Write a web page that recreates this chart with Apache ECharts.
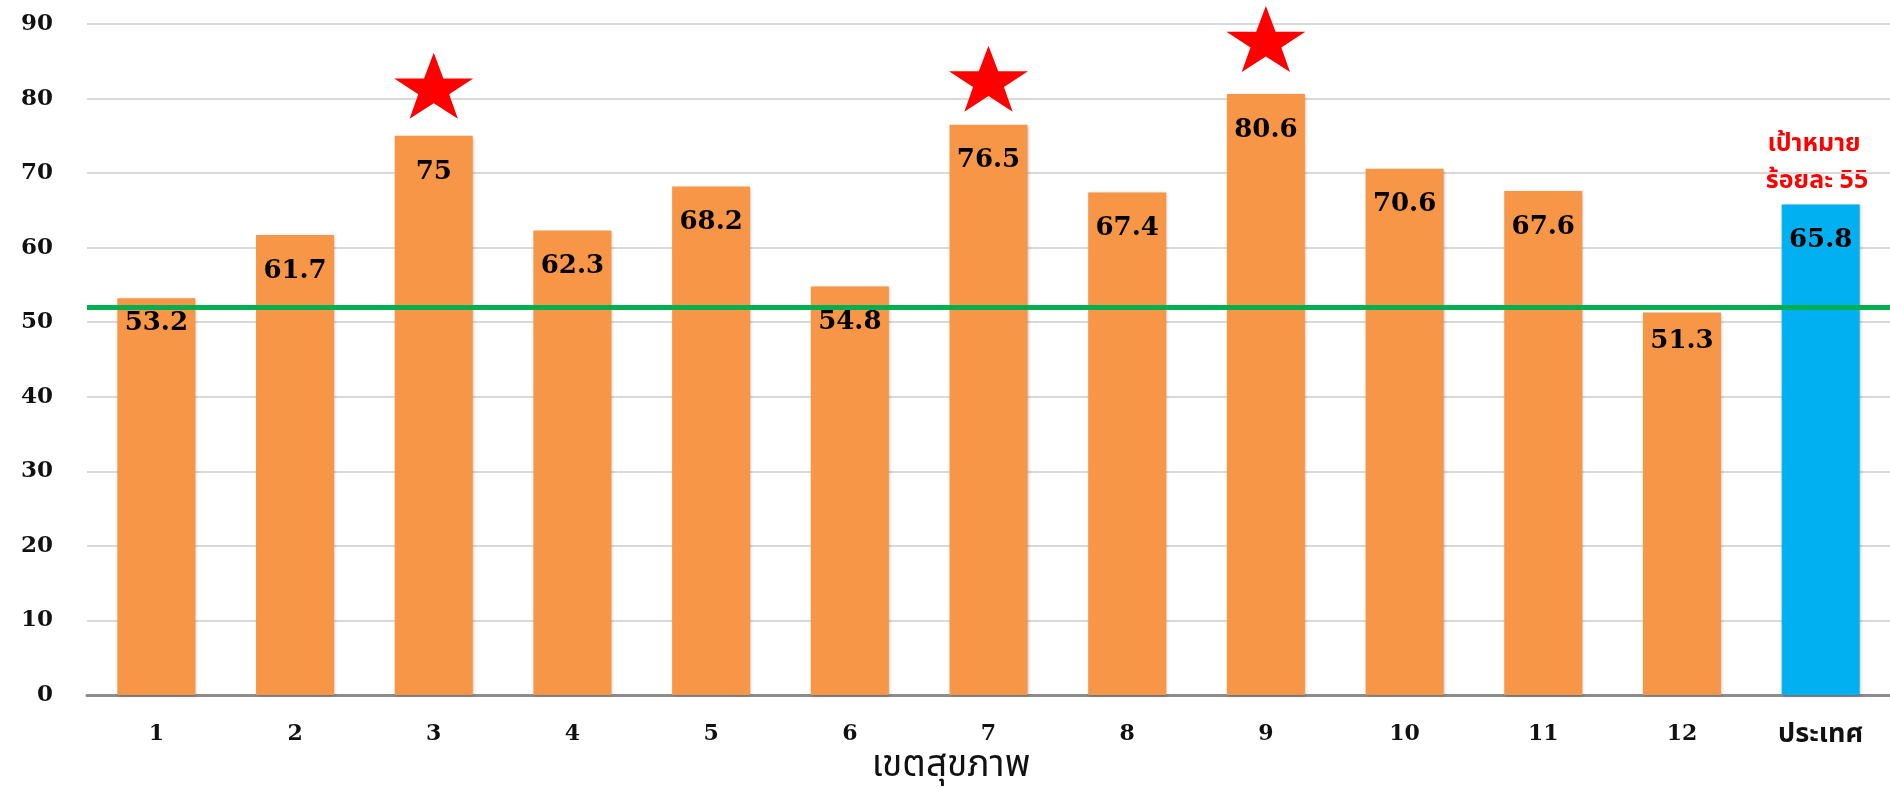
<!DOCTYPE html>
<html>
<head>
<meta charset="utf-8">
<script src="https://cdn.jsdelivr.net/npm/echarts@6/dist/echarts.min.js"></script>
<style>
  html, body { margin: 0; padding: 0; background: #ffffff; }
  #chart { width: 1890px; height: 788px; }
</style>
</head>
<body>
<div id="chart"></div>
<script>
// Health regions (เขตสุขภาพ) and the national figure
const categories = ['1', '2', '3', '4', '5', '6', '7', '8', '9', '10', '11', '12', 'ประเทศ'];
const values = [53.2, 61.7, 75, 62.3, 68.2, 54.8, 76.5, 67.4, 80.6, 70.6, 67.6, 51.3, 65.8];
const nationalCategory = 'ประเทศ';
const starredRegions = ['3', '7', '9'];
const referenceLine = 52;
const yTicks = { min: 0, max: 90, interval: 10 };
const axisTitle = 'เขตสุขภาพ';
const targetText = ['เป้าหมาย', 'ร้อยละ 55'];

// Styling
const ORANGE = '#F79646';
const BLUE = '#00B0F0';
const numFont = '"DejaVu Serif", "Liberation Serif", serif';
const thaiFont = '"Noto Sans Thai", "Noto Sans", "DejaVu Sans", sans-serif';
const starLift = { '3': 50, '7': 46, '9': 55 };      // px between bar top and star centre
const labelDistance = { '1': 12, '12': 16 };          // bars whose value text sits higher

const barData = categories.map((c, i) => {
  const item = {
    value: values[i],
    itemStyle: { color: c === nationalCategory ? BLUE : ORANGE }
  };
  if (labelDistance[c] !== undefined) item.label = { distance: labelDistance[c] };
  return item;
});

const starData = starredRegions.map(r => ({
  value: [r, values[categories.indexOf(r)]],
  symbolOffset: [0, -starLift[r]]
}));

const STAR = 'path://M50,0 L61.8,35.1 L98.1,35.1 L68.8,56.7 L79.4,90.5 L50,69.1 L20.6,90.5 L31.2,56.7 L1.9,35.1 L38.2,35.1 Z';

const chart = echarts.init(document.getElementById('chart'), null, { renderer: 'canvas' });

chart.setOption({
  animation: false,
  backgroundColor: '#ffffff',
  grid: { left: 87, right: 0, top: 24, bottom: 93, containLabel: false },
  xAxis: {
    type: 'category',
    data: categories,
    axisLine: { show: true, lineStyle: { color: '#8C8C8C', width: 3 } },
    axisTick: { show: false },
    axisLabel: {
      interval: 0,
      hideOverlap: false,
      margin: 28,
      color: '#111111',
      fontFamily: numFont,
      fontWeight: 'bold',
      fontSize: 22,
      formatter: v => (v === nationalCategory ? '{th|' + v + '}' : v),
      rich: {
        th: { fontFamily: thaiFont, fontWeight: 'bold', fontSize: 27, color: '#111111' }
      }
    }
  },
  yAxis: {
    type: 'value',
    min: yTicks.min,
    max: yTicks.max,
    interval: yTicks.interval,
    axisLine: { show: false },
    axisTick: { show: false },
    splitLine: { lineStyle: { color: '#D9D9D9', width: 2 } },
    axisLabel: {
      margin: 34,
      color: '#111111',
      fontFamily: numFont,
      fontWeight: 'bold',
      fontSize: 23
    }
  },
  series: [
    {
      type: 'bar',
      data: barData,
      barWidth: 78,
      itemStyle: {
        shadowColor: 'rgba(0,0,0,0.25)',
        shadowBlur: 3,
        shadowOffsetX: 1,
        shadowOffsetY: 1
      },
      label: {
        show: true,
        position: 'insideTop',
        distance: 23,
        color: '#000000',
        fontFamily: numFont,
        fontWeight: 'bold',
        fontSize: 26
      },
      markLine: {
        silent: true,
        symbol: ['none', 'none'],
        label: { show: false },
        lineStyle: { color: '#00B050', width: 5, type: 'solid', opacity: 1 },
        data: [{ yAxis: referenceLine }]
      },
      z: 2
    },
    {
      type: 'scatter',
      data: starData,
      symbol: STAR,
      symbolSize: [79, 66],
      symbolKeepAspect: false,
      itemStyle: { color: '#FF0000', opacity: 1 },
      z: 5
    }
  ],
  graphic: [
    {
      type: 'text',
      x: 951,
      y: 769,
      style: {
        text: axisTitle,
        font: '37px ' + thaiFont,
        fill: '#111111',
        textAlign: 'center',
        textVerticalAlign: 'middle'
      }
    },
    {
      type: 'text',
      x: 1814,
      y: 146,
      style: {
        text: targetText[0],
        font: 'bold 25px ' + thaiFont,
        fill: '#FF0000',
        textAlign: 'center',
        textVerticalAlign: 'middle'
      }
    },
    {
      type: 'text',
      x: 1817,
      y: 183,
      style: {
        text: targetText[1],
        font: 'bold 25px ' + thaiFont,
        fill: '#FF0000',
        textAlign: 'center',
        textVerticalAlign: 'middle'
      }
    }
  ]
});
</script>
</body>
</html>
